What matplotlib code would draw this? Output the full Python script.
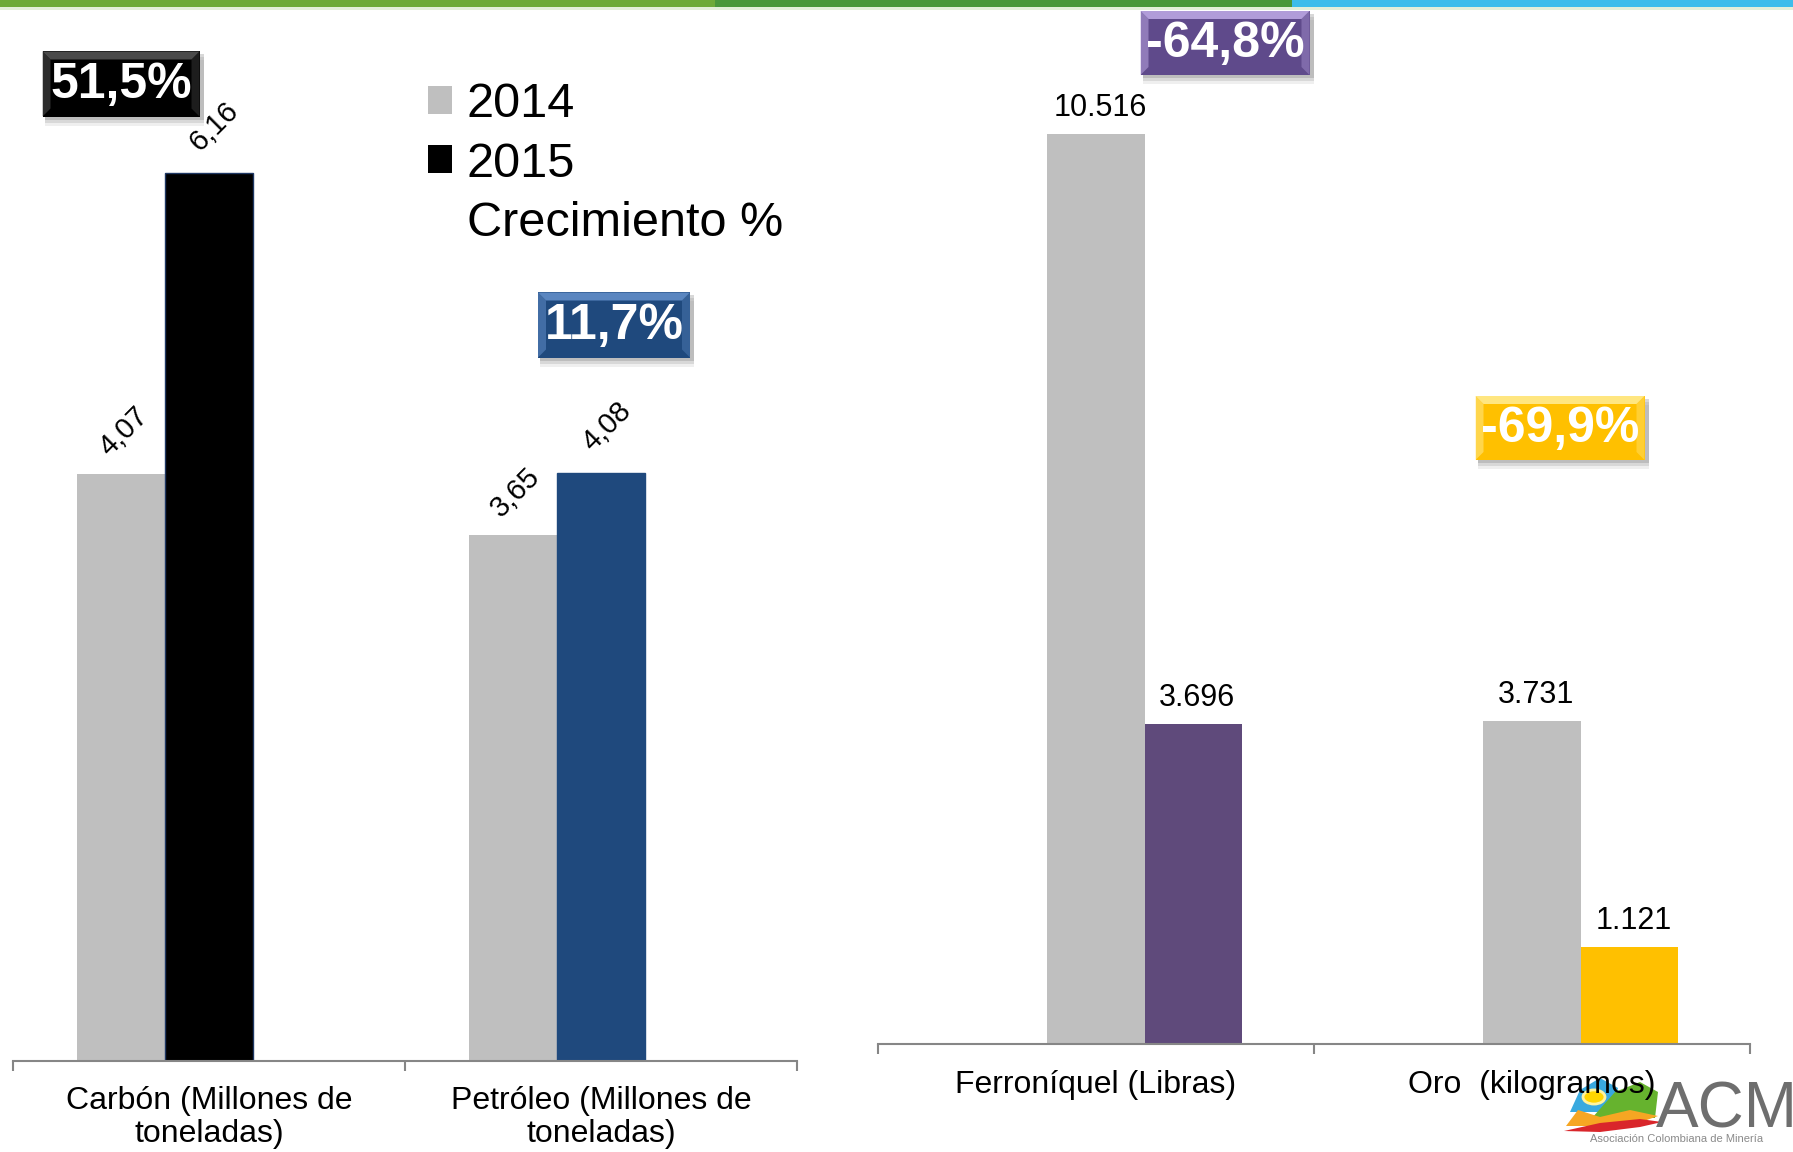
import numpy as np
import matplotlib
matplotlib.use('Agg')
import matplotlib.pyplot as plt
from matplotlib.patches import Rectangle, Polygon, Circle, Patch

plt.rcParams['font.family'] = ['Liberation Sans', 'DejaVu Sans']

# ---------------------------------------------------- data ----------------------------------------------------
cats_left = ['Carbón (Millones de\ntoneladas)', 'Petróleo (Millones de\ntoneladas)']
left_2014 = [4.07, 3.65]
left_2015 = [6.16, 4.08]
left_colors = ['#000000', '#1F497D']

cats_right = ['Ferroníquel (Libras)', 'Oro  (kilogramos)']
right_2014 = [10516, 3731]
right_2015 = [3696, 1121]
right_colors = ['#5F4A7B', '#FFC000']

growth = ['51,5%', '11,7%', '-64,8%', '-69,9%']
legend_labels = ['2014', '2015', 'Crecimiento %']

GRAY = '#BFBFBF'
AXC = '#868686'

W, H = 1793, 1152
fig = plt.figure(figsize=(W / 100, H / 100), dpi=100)


def P(x, y):
    # pixel (from top-left) -> figure fraction
    return (x / W, 1 - y / H)


def style_axis(ax, cats, pad):
    for s in ['left', 'right', 'top']:
        ax.spines[s].set_visible(False)
    ax.spines['bottom'].set_color(AXC)
    ax.spines['bottom'].set_linewidth(1.5)
    ax.set_yticks([])
    ax.set_xlim(-0.5, len(cats) - 0.5)
    ax.set_xticks(np.arange(len(cats) + 1) - 0.5)
    ax.set_xticklabels([])
    ax.tick_params(axis='x', which='major', length=7, width=1.5, color=AXC)
    ax.set_xticks(np.arange(len(cats)), minor=True)
    ax.set_xticklabels(cats, minor=True, fontsize=23, linespacing=1.15)
    ax.tick_params(axis='x', which='minor', length=0, pad=pad)
    ax.patch.set_alpha(0)


# ---------------------------------------------------- left chart ----------------------------------------------
ax1 = fig.add_axes([13 / W, 91 / H, 784 / W, 961 / H])
x = np.arange(len(cats_left))
w = 0.225
ax1.bar(x - w, left_2014, w, color=GRAY)
ax1.bar(x, left_2015, w, color=left_colors, edgecolor=['#1F3864', '#1F497D'], linewidth=1)
ax1.set_ylim(0, 961 / 144.2)
style_axis(ax1, cats_left, 18)
for xi, v in zip(x - w, left_2014):
    ax1.annotate(f'{v:.2f}'.replace('.', ','), (xi, v), xytext=(2, 9), textcoords='offset points',
                 rotation=45, ha='center', va='bottom', fontsize=21)
for xi, v in zip(x, left_2015):
    ax1.annotate(f'{v:.2f}'.replace('.', ','), (xi, v), xytext=(4, 12), textcoords='offset points',
                 rotation=45, ha='center', va='bottom', fontsize=21)

handles = [Patch(facecolor=GRAY), Patch(facecolor='#000000'), Patch(facecolor='none', edgecolor='none')]
ax1.legend(handles, legend_labels, loc='upper left', bbox_to_anchor=P(428, 82),
           bbox_transform=fig.transFigure, frameon=False, fontsize=35,
           handlelength=0.5, handleheight=0.5, handletextpad=0.3, labelspacing=0.3,
           borderpad=0, borderaxespad=0)

# ---------------------------------------------------- right chart ---------------------------------------------
ax2 = fig.add_axes([878 / W, 108 / H, 872 / W, 944 / H])
x = np.arange(len(cats_right))
w = 0.223
ax2.bar(x, right_2014, w, color=GRAY)
ax2.bar(x + w, right_2015, w, color=right_colors)
ax2.set_ylim(0, 944 / 0.08655)
style_axis(ax2, cats_right, 19)
for xi, v in zip(x, right_2014):
    ax2.annotate(f'{v:,}'.replace(',', '.'), (xi, v), xytext=(3, 8), textcoords='offset points',
                 ha='center', va='bottom', fontsize=22)
for xi, v in zip(x + w, right_2015):
    ax2.annotate(f'{v:,}'.replace(',', '.'), (xi, v), xytext=(3, 8), textcoords='offset points',
                 ha='center', va='bottom', fontsize=22)


# ---------------------------------------------------- growth badges -------------------------------------------
def badge(cx, cy, bw, bh, txt, face, bevel):
    x0, y0 = cx - bw / 2, cy + bh / 2
    # soft shadow
    for k, a in [(9, 0.12), (6, 0.2), (3, 0.3)]:
        fig.add_artist(Rectangle(P(x0 + 2, y0 + k), (bw + 2) / W, bh / H, transform=fig.transFigure,
                                 facecolor='#808080', alpha=a, edgecolor='none', zorder=3))
    fig.add_artist(Rectangle(P(x0, y0), bw / W, bh / H, transform=fig.transFigure,
                             facecolor=face, edgecolor='none', zorder=4))
    # bevelled top edge
    fig.add_artist(Polygon([P(x0, y0 - bh), P(x0 + bw, y0 - bh), P(x0 + bw - 8, y0 - bh + 8),
                            P(x0 + 8, y0 - bh + 8)], closed=True, transform=fig.transFigure,
                           facecolor=bevel, edgecolor='none', zorder=5))
    fig.add_artist(Polygon([P(x0, y0 - bh), P(x0 + 8, y0 - bh + 8), P(x0 + 8, y0 - 8), P(x0, y0)],
                           closed=True, transform=fig.transFigure,
                           facecolor=bevel, alpha=0.6, edgecolor='none', zorder=5))
    fig.add_artist(Polygon([P(x0 + bw, y0 - bh), P(x0 + bw - 8, y0 - bh + 8), P(x0 + bw - 8, y0 - 8),
                            P(x0 + bw, y0)], closed=True, transform=fig.transFigure,
                           facecolor=bevel, alpha=0.4, edgecolor='none', zorder=5))
    fig.text(*P(cx, cy + 1), txt, ha='center', va='center', color='white', fontsize=36,
             fontweight='bold', zorder=6)


badge(121, 84, 157, 65, growth[0], '#000000', '#4A4A4A')
badge(614, 325, 152, 65, growth[1], '#1F497D', '#5A86C0')
badge(1225, 43, 169, 64, growth[2], '#5F4A8B', '#B19CD9')
badge(1560, 428, 169, 64, growth[3], '#FFC000', '#FFE680')

# ---------------------------------------------------- top stripe ----------------------------------------------
for xs, xe, c in [(0, 715, '#6EAA38'), (715, 1292, '#4A973A'), (1292, 1793, '#3DBDEB')]:
    fig.add_artist(Rectangle(P(xs, 7), (xe - xs) / W, 7 / H, transform=fig.transFigure,
                             facecolor=c, edgecolor='none', zorder=2))
fig.add_artist(Rectangle(P(0, 10), 1, 3 / H, transform=fig.transFigure,
                         facecolor='#E4EFD9', edgecolor='none', zorder=2))

# ---------------------------------------------------- logo (behind the axis labels) ---------------------------
logo = [
    ([(1570, 1112), (1580, 1090), (1600, 1078), (1618, 1088), (1612, 1112)], '#39A9DF'),
    ([(1592, 1118), (1615, 1092), (1640, 1082), (1658, 1092), (1655, 1118)], '#66B32E'),
    ([(1566, 1126), (1578, 1110), (1600, 1117), (1630, 1110), (1658, 1116), (1630, 1126)], '#F6A623'),
    ([(1564, 1131), (1600, 1123), (1640, 1119), (1662, 1122), (1640, 1127), (1600, 1132)], '#D9262B'),
]
for pts, c in logo:
    fig.add_artist(Polygon([P(*p) for p in pts], closed=True, transform=fig.transFigure,
                           facecolor=c, edgecolor='none', zorder=-2))
fig.add_artist(Circle(P(1594, 1097), 11 / W, transform=fig.transFigure,
                      facecolor='#FFD500', edgecolor='#FFF3A0', linewidth=2, zorder=-1))
fig.text(*P(1656, 1128), 'ACM', fontsize=46, color='#6E6E6E', ha='left', va='baseline', zorder=-1)
fig.text(*P(1590, 1142), 'Asociación Colombiana de Minería', fontsize=8, color='#8A8A8A',
         ha='left', va='baseline', zorder=-1)

fig.savefig('out.png', dpi=100)
